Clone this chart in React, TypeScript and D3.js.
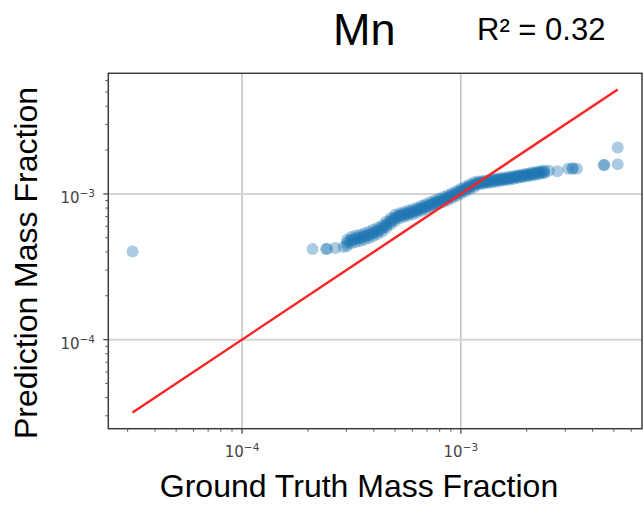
import React from "react";
import * as d3 from "d3";

// ---- data (mass fractions) ----
const sparseTruth = [3.16e-5, 2.10e-4, 2.42e-4, 2.45e-4, 2.67e-4, 2.91e-4, 2.52e-3, 2.76e-3, 3.09e-3, 3.23e-3, 3.25e-3, 3.39e-3, 4.49e-3, 4.53e-3, 5.21e-3, 5.21e-3];
const sparsePred = [4.02e-4, 4.18e-4, 4.18e-4, 4.20e-4, 4.25e-4, 4.32e-4, 1.44e-3, 1.43e-3, 1.49e-3, 1.49e-3, 1.50e-3, 1.49e-3, 1.58e-3, 1.58e-3, 1.60e-3, 2.08e-3];

// dense cloud, read as three rows (lower edge / middle / upper edge)
const bandTruth = [3.02e-4, 3.16e-4, 3.31e-4, 3.47e-4, 3.63e-4, 3.80e-4, 3.98e-4, 4.17e-4, 4.37e-4, 4.57e-4, 4.79e-4, 5.01e-4, 5.25e-4, 5.50e-4, 5.75e-4, 6.03e-4, 6.31e-4, 6.61e-4, 6.92e-4, 7.24e-4, 7.59e-4, 7.94e-4, 8.32e-4, 8.71e-4, 9.12e-4, 9.55e-4, 10.00e-4, 10.47e-4, 10.96e-4, 11.48e-4, 12.02e-4, 12.59e-4, 13.18e-4, 13.80e-4, 14.45e-4, 15.14e-4, 15.85e-4, 16.60e-4, 17.38e-4, 18.20e-4, 19.05e-4, 19.95e-4, 20.89e-4, 21.88e-4, 22.91e-4, 23.99e-4];
const bandPredCenter = [4.61e-4, 4.82e-4, 4.91e-4, 5.00e-4, 5.11e-4, 5.24e-4, 5.40e-4, 5.57e-4, 5.81e-4, 6.15e-4, 6.50e-4, 6.86e-4, 7.08e-4, 7.23e-4, 7.38e-4, 7.55e-4, 7.74e-4, 7.96e-4, 8.18e-4, 8.41e-4, 8.65e-4, 8.89e-4, 9.14e-4, 9.42e-4, 9.75e-4, 10.07e-4, 10.42e-4, 10.79e-4, 11.17e-4, 11.56e-4, 11.89e-4, 11.99e-4, 12.13e-4, 12.27e-4, 12.42e-4, 12.56e-4, 12.68e-4, 12.82e-4, 12.97e-4, 13.15e-4, 13.30e-4, 13.46e-4, 13.65e-4, 13.80e-4, 14.00e-4, 14.16e-4];
const bandPredUpper = [4.84e-4, 5.06e-4, 5.16e-4, 5.25e-4, 5.37e-4, 5.50e-4, 5.67e-4, 5.85e-4, 6.10e-4, 6.46e-4, 6.83e-4, 7.20e-4, 7.36e-4, 7.52e-4, 7.68e-4, 7.85e-4, 8.05e-4, 8.28e-4, 8.51e-4, 8.75e-4, 9.00e-4, 9.25e-4, 9.51e-4, 9.80e-4, 10.14e-4, 10.47e-4, 10.84e-4, 11.22e-4, 11.62e-4, 12.02e-4, 12.16e-4, 12.27e-4, 12.41e-4, 12.55e-4, 12.71e-4, 12.85e-4, 12.97e-4, 13.11e-4, 13.27e-4, 13.45e-4, 13.61e-4, 13.77e-4, 13.96e-4, 14.12e-4, 14.32e-4, 14.49e-4];
const bandPredLower = [4.39e-4, 4.59e-4, 4.67e-4, 4.76e-4, 4.86e-4, 4.99e-4, 5.14e-4, 5.30e-4, 5.53e-4, 5.85e-4, 6.19e-4, 6.53e-4, 6.81e-4, 6.96e-4, 7.10e-4, 7.26e-4, 7.45e-4, 7.66e-4, 7.87e-4, 8.09e-4, 8.32e-4, 8.55e-4, 8.79e-4, 9.06e-4, 9.38e-4, 9.69e-4, 10.02e-4, 10.38e-4, 10.75e-4, 11.12e-4, 11.62e-4, 11.72e-4, 11.86e-4, 11.99e-4, 12.14e-4, 12.28e-4, 12.39e-4, 12.53e-4, 12.68e-4, 12.85e-4, 13.00e-4, 13.16e-4, 13.34e-4, 13.49e-4, 13.69e-4, 13.84e-4];

// further points inside the dense cloud
const cloudTruth = [3.09e-4, 3.24e-4, 3.39e-4, 3.55e-4, 3.72e-4, 3.89e-4, 4.07e-4, 4.27e-4, 4.47e-4, 4.68e-4, 4.90e-4, 5.13e-4, 5.37e-4, 5.62e-4, 5.89e-4, 6.17e-4, 6.46e-4, 6.76e-4, 7.08e-4, 7.41e-4, 7.76e-4, 8.13e-4, 8.51e-4, 8.91e-4, 9.33e-4, 9.77e-4, 10.23e-4, 10.72e-4, 11.22e-4, 11.75e-4, 12.30e-4, 12.88e-4, 13.49e-4, 14.13e-4, 14.79e-4, 15.49e-4, 16.22e-4, 16.98e-4, 17.78e-4, 18.62e-4, 19.50e-4, 20.42e-4, 21.38e-4, 22.39e-4, 23.44e-4];
const cloudPred = [4.72e-4, 4.87e-4, 4.96e-4, 5.06e-4, 5.18e-4, 5.32e-4, 5.49e-4, 5.69e-4, 5.98e-4, 6.33e-4, 6.68e-4, 6.97e-4, 7.16e-4, 7.31e-4, 7.47e-4, 7.65e-4, 7.85e-4, 8.07e-4, 8.30e-4, 8.53e-4, 8.77e-4, 9.02e-4, 9.28e-4, 9.59e-4, 9.91e-4, 10.25e-4, 10.61e-4, 10.98e-4, 11.37e-4, 11.73e-4, 11.94e-4, 12.06e-4, 12.20e-4, 12.35e-4, 12.49e-4, 12.62e-4, 12.75e-4, 12.90e-4, 13.06e-4, 13.23e-4, 13.38e-4, 13.56e-4, 13.73e-4, 13.90e-4, 14.08e-4];

const majorTicks = [1e-4, 1e-3];
const tickExponents = ["\u22124", "\u22123"];
const titleText = "Mn";
const r2Text = "R\u00B2 = 0.32";
const xLabelText = "Ground Truth Mass Fraction";
const yLabelText = "Prediction Mass Fraction";

export default function App() {
  const W = 644;
  const H = 505;
  const left = 108.3, right = 642, top = 73.3, bottom = 428.7;

  const allTruth = [...sparseTruth, ...bandTruth, ...cloudTruth];
  const tMin = d3.min(allTruth) as number;
  const tMax = d3.max(allTruth) as number;
  const lo = Math.log10(tMin), hi = Math.log10(tMax);
  const pad = (hi - lo) * 0.05;
  const domain = [Math.pow(10, lo - pad), Math.pow(10, hi + pad)];

  const x = d3.scaleLog().domain(domain).range([left, right]);
  const y = d3.scaleLog().domain(domain).range([bottom, top]);

  const pts: [number, number][] = [];
  bandTruth.forEach((t, i) => {
    pts.push([t, bandPredLower[i]]);
    pts.push([t, bandPredCenter[i]]);
    pts.push([t, bandPredUpper[i]]);
  });
  cloudTruth.forEach((t, i) => pts.push([t, cloudPred[i]]));
  sparseTruth.forEach((t, i) => pts.push([t, sparsePred[i]]));

  const allTicks = x.ticks(20);
  const isMajor = (v: number) => majorTicks.some((m) => Math.abs(v / m - 1) < 1e-6);
  const minorTicks = allTicks.filter((v) => !isMajor(v));

  const line = d3
    .line<number>()
    .x((d) => x(d))
    .y((d) => y(d));

  const tickFont = "DejaVu Sans, sans-serif";
  const labelFont = "Liberation Sans, Arial, sans-serif";

  return (
    <svg
      width={W}
      height={H}
      style={{ position: "absolute", left: 0, top: 0, background: "#fff" }}
    >
      <rect x={0} y={0} width={W} height={H} fill="#fff" />
      {/* grid */}
      {majorTicks.map((t, i) => (
        <line key={"gx" + i} x1={x(t)} x2={x(t)} y1={top} y2={bottom} stroke="#b8b8b8" strokeWidth={1.3} />
      ))}
      {majorTicks.map((t, i) => (
        <line key={"gy" + i} x1={left} x2={right} y1={y(t)} y2={y(t)} stroke="#d4d4d4" strokeWidth={2} />
      ))}
      {/* points */}
      <g fill="#1f77b4" fillOpacity={0.38}>
        {pts.map((p, i) => (
          <circle key={i} cx={x(p[0])} cy={y(p[1])} r={6} />
        ))}
      </g>
      {/* identity line */}
      <path d={line([tMin, tMax]) as string} stroke="#ff2222" strokeWidth={2.4} fill="none" />
      {/* spines */}
      <rect x={left} y={top} width={right - left} height={bottom - top} fill="none" stroke="#3c3c3c" strokeWidth={1.5} />
      {/* ticks */}
      {majorTicks.map((t, i) => (
        <g key={"mt" + i} stroke="#3c3c3c" strokeWidth={1.2}>
          <line x1={x(t)} x2={x(t)} y1={bottom} y2={bottom + 5} />
          <line x1={left} x2={left - 5} y1={y(t)} y2={y(t)} />
        </g>
      ))}
      {minorTicks.map((t, i) => (
        <g key={"nt" + i} stroke="#555" strokeWidth={1}>
          <line x1={x(t)} x2={x(t)} y1={bottom} y2={bottom + 3} />
          <line x1={left} x2={left - 3} y1={y(t)} y2={y(t)} />
        </g>
      ))}
      {/* tick labels */}
      {majorTicks.map((t, i) => (
        <text key={"xl" + i} x={x(t)} y={bottom + 28.5} textAnchor="middle" fontFamily={tickFont} fontSize={15} fill="#444">
          <tspan>10</tspan>
          <tspan fontSize={10.5} dy={-6}>{tickExponents[i]}</tspan>
        </text>
      ))}
      {majorTicks.map((t, i) => (
        <text key={"yl" + i} x={95} y={y(t) + 9.5} textAnchor="end" fontFamily={tickFont} fontSize={15} fill="#444">
          <tspan>10</tspan>
          <tspan fontSize={10.5} dy={-6}>{tickExponents[i]}</tspan>
        </text>
      ))}
      {/* titles */}
      <text x={333} y={45} fontFamily={labelFont} fontSize={45} fill="#000">{titleText}</text>
      <text x={477} y={40} fontFamily={labelFont} fontSize={31} fill="#000">{r2Text}</text>
      <text x={359} y={497} textAnchor="middle" fontFamily={labelFont} fontSize={32} fill="#000">{xLabelText}</text>
      <text
        transform={`translate(37,263) rotate(-90)`}
        textAnchor="middle"
        fontFamily={labelFont}
        fontSize={32}
        fill="#000"
      >
        {yLabelText}
      </text>
    </svg>
  );
}
